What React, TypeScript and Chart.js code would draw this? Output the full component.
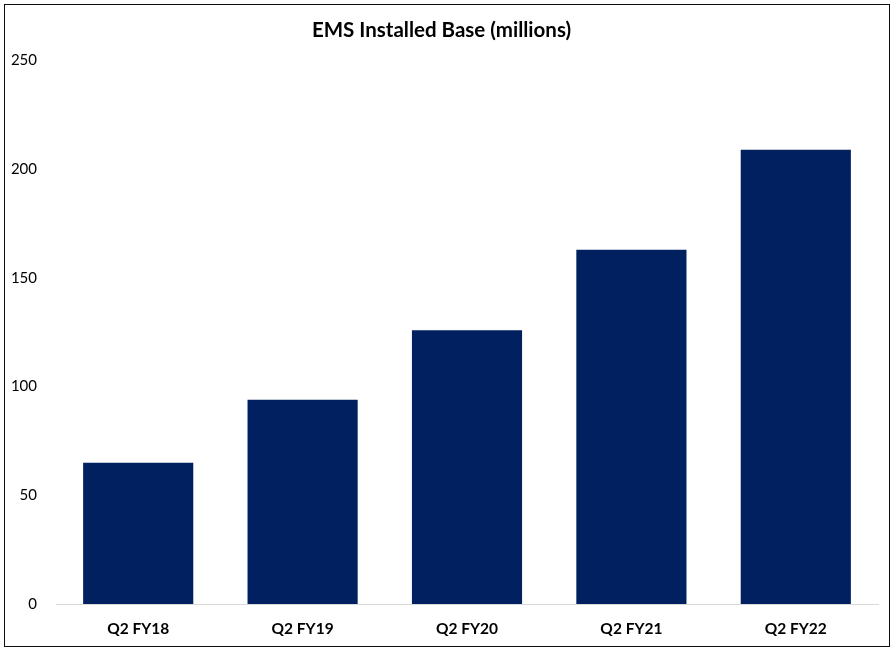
import { useEffect, useRef } from 'react'
import { Chart, registerables } from 'chart.js'

Chart.register(...registerables)

const categories = ['Q2 FY18', 'Q2 FY19', 'Q2 FY20', 'Q2 FY21', 'Q2 FY22']
const installedBase = [65, 94, 126, 163, 209]
const yTicks = [0, 50, 100, 150, 200, 250]

const FONT = 'Lato, "Open Sans", "Liberation Sans", sans-serif'

export default function App() {
  const chartRef = useRef<HTMLCanvasElement>(null)
  const chartInstance = useRef<Chart | null>(null)

  useEffect(() => {
    if (!chartRef.current) return
    if (chartInstance.current) chartInstance.current.destroy()
    const ctx = chartRef.current.getContext('2d')
    if (!ctx) return

    chartInstance.current = new Chart(ctx, {
      type: 'bar',
      data: {
        labels: categories,
        datasets: [
          {
            label: 'EMS Installed Base',
            data: installedBase,
            backgroundColor: '#002060',
            borderWidth: 0,
            barPercentage: 0.67,
            categoryPercentage: 1,
          },
        ],
      },
      options: {
        animation: false,
        responsive: true,
        maintainAspectRatio: false,
        layout: { padding: { top: 6, right: 11, bottom: 0, left: 0 } },
        plugins: {
          legend: { display: false },
          tooltip: { enabled: false },
          title: {
            display: true,
            text: 'EMS Installed Base (millions)',
            color: '#000000',
            font: { family: FONT, size: 20.5, weight: 'bold' },
            padding: { top: 7, bottom: 18 },
          },
        },
        scales: {
          x: {
            afterFit: (scale: any) => {
              scale.height = 42
            },
            grid: { display: false },
            border: { display: true, color: '#d9d9d9', width: 1 },
            ticks: {
              color: '#000000',
              padding: 8,
              font: { family: FONT, size: 15.5, weight: 'bold' },
            },
          },
          y: {
            min: 0,
            max: 250,
            afterBuildTicks: (scale: any) => {
              scale.ticks = yTicks.map((v) => ({ value: v }))
            },
            afterFit: (scale: any) => {
              scale.width = 51
            },
            grid: { display: false, drawTicks: false },
            border: { display: false },
            ticks: {
              color: '#000000',
              padding: 19,
              font: { family: FONT, size: 15 },
            },
          },
        },
      },
    })

    return () => {
      if (chartInstance.current) chartInstance.current.destroy()
    }
  }, [])

  return (
    <div
      style={{
        position: 'absolute',
        left: 4,
        top: 4,
        width: 886,
        height: 643,
        border: '1.5px solid #0d0d0d',
        boxSizing: 'border-box',
        background: '#ffffff',
      }}
    >
      <div style={{ position: 'relative', width: '100%', height: '100%' }}>
        <canvas ref={chartRef} />
      </div>
    </div>
  )
}
